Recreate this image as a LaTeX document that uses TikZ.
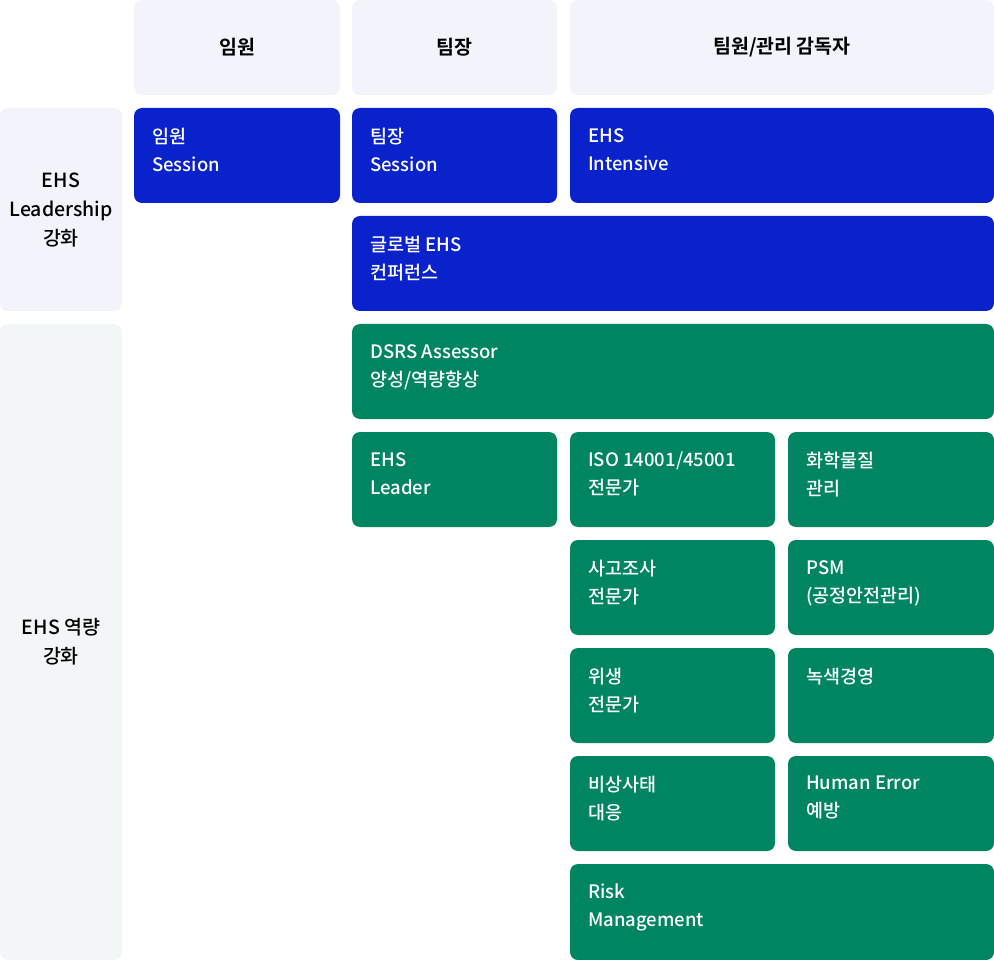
\documentclass[tikz,border=0pt]{standalone}
\usepackage{fontspec}
\setmainfont{Noto Sans CJK KR Medium}
\newfontfamily\hdrfont{Noto Sans CJK KR Bold}
\begin{document}
\definecolor{hdr}{HTML}{F2F3FB}
\definecolor{side2}{HTML}{F3F6F6}
\definecolor{bl}{HTML}{0A22CC}
\definecolor{gr}{HTML}{008563}
\begin{tikzpicture}[x=1pt,y=-1pt,
  cell/.style={rounded corners=8pt},
  lbl/.style={anchor=north west,align=left,text=white,font=\fontsize{18.5}{28}\selectfont,inner sep=0pt},
  hl/.style={align=center,text=black,font=\hdrfont\fontsize{19.5}{28}\selectfont,inner sep=0pt},
  sl/.style={align=center,text=black,font=\fontsize{19.5}{29}\selectfont,inner sep=0pt}]
\useasboundingbox (0,0) rectangle (994,960);
% boxes: name, x1,y1,x2,y2, colour
\newcommand\cellbox[6]{\fill[cell,#6] (#2,#3) rectangle (#4,#5) coordinate (#1-se); \coordinate (#1-nw) at (#2,#3); \coordinate (#1-c) at ({(#2+#4)/2},{(#3+#5)/2});}
% headers
\cellbox{h1}{134}{0}{340}{95}{hdr}
\cellbox{h2}{352}{0}{557}{95}{hdr}
\cellbox{h3}{570}{0}{994}{95}{hdr}
\node[hl] (t-h1) at (h1-c) {임원};
\node[hl] (t-h2) at (h2-c) {팀장};
\node[hl] (t-h3) at (h3-c) {팀원/관리 감독자};
% side
\cellbox{s1}{0}{108}{122}{311}{hdr}
\cellbox{s2}{0}{324}{122}{960}{side2}
\node[sl] (t-s1) at (s1-c) {EHS\\Leadership\\강화};
\node[sl] (t-s2) at (s2-c) {EHS 역량\\강화};
% blue
\cellbox{b1}{134}{108}{340}{203}{bl}
\cellbox{b2}{352}{108}{557}{203}{bl}
\cellbox{b3}{570}{108}{994}{203}{bl}
\cellbox{b4}{352}{216}{994}{311}{bl}
% green
\cellbox{g1}{352}{324}{994}{419}{gr}
\cellbox{g2}{352}{432}{557}{527}{gr}
\cellbox{g3}{570}{432}{775}{527}{gr}
\cellbox{g4}{788}{432}{994}{527}{gr}
\cellbox{g5}{570}{540}{775}{635}{gr}
\cellbox{g6}{788}{540}{994}{635}{gr}
\cellbox{g7}{570}{648}{775}{743}{gr}
\cellbox{g8}{788}{648}{994}{743}{gr}
\cellbox{g9}{570}{756}{775}{851}{gr}
\cellbox{g10}{788}{756}{994}{851}{gr}
\cellbox{g11}{570}{864}{994}{960}{gr}
% labels
\tikzset{off/.style={shift={(18,20)}}}
\node[lbl] (t-b1) at ([off]b1-nw) {임원\\Session};
\node[lbl] (t-b2) at ([off]b2-nw) {팀장\\Session};
\node[lbl] (t-b3) at ([off]b3-nw) {EHS\\Intensive};
\node[lbl] (t-b4) at ([off]b4-nw) {글로벌 EHS\\컨퍼런스};
\node[lbl] (t-g1) at ([off]g1-nw) {DSRS Assessor\\양성/역량향상};
\node[lbl] (t-g2) at ([off]g2-nw) {EHS\\Leader};
\node[lbl] (t-g3) at ([off]g3-nw) {ISO 14001/45001\\전문가};
\node[lbl] (t-g4) at ([off]g4-nw) {화학물질\\관리};
\node[lbl] (t-g5) at ([off]g5-nw) {사고조사\\전문가};
\node[lbl] (t-g6) at ([off]g6-nw) {PSM\\(공정안전관리)};
\node[lbl] (t-g7) at ([off]g7-nw) {위생\\전문가};
\node[lbl] (t-g8) at ([off]g8-nw) {녹색경영};
\node[lbl] (t-g9) at ([off]g9-nw) {비상사태\\대응};
\node[lbl] (t-g10) at ([off]g10-nw) {Human Error\\예방};
\node[lbl] (t-g11) at ([off]g11-nw) {Risk\\Management};
\end{tikzpicture}
\end{document}
